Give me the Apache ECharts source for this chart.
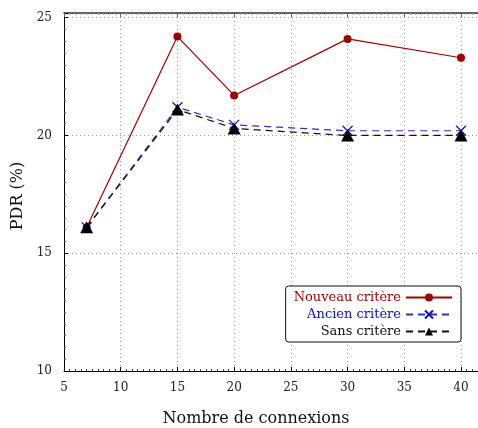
<!DOCTYPE html>
<html><head><meta charset="utf-8">
<script src="https://cdn.jsdelivr.net/npm/echarts@6/dist/echarts.min.js"></script>
<style>html,body{margin:0;padding:0;background:#fff}#c{width:478px;height:428px}</style>
</head><body><div id="c"></div>
<script>
const connexions = [7, 15, 20, 30, 40];
const nouveau = [16.1, 24.2, 21.7, 24.1, 23.3];
const ancien = [16.1, 21.2, 20.45, 20.2, 20.2];
const sans = [16.1, 21.1, 20.3, 20.0, 20.0];
const seriesNames = ['Nouveau critère', 'Ancien critère', 'Sans critère'];
const xTicks = [5, 10, 15, 20, 25, 30, 35, 40];
const yTicks = [10, 15, 20, 25];

const FONT = 'DejaVu Serif';
const pairs = (ys) => connexions.map((x, i) => [x, ys[i]]);
const chart = echarts.init(document.getElementById('c'));
const gridLine = {show: true, lineStyle: {color: '#9a9a9a', type: [1, 3], width: 1}};
chart.setOption({
  animation: false,
  grid: {left: 64, right: 0, top: 13, bottom: 57, outerBoundsMode: 'none', containLabel: false},
  xAxis: [{
    type: 'value', min: 5, max: 41.5, interval: 5,
    axisLine: {show: true, onZero: false, lineStyle: {color: '#000', width: 1}},
    axisTick: {show: true, inside: true, length: 4, lineStyle: {color: '#000'}},
    minorTick: {show: true, splitNumber: 10, length: 2, lineStyle: {color: '#444'}},
    axisLabel: {color: '#222', fontFamily: FONT, fontSize: 12, margin: 11, showMaxLabel: false,
      formatter: v => xTicks.includes(v) ? String(v) : ''},
    splitLine: gridLine,
    name: 'Nombre de connexions', nameLocation: 'middle', nameGap: 40,
    nameTextStyle: {fontFamily: FONT, fontSize: 16, color: '#111', padding: [0, 30, 0, 0]}
  }, {
    type: 'value', position: 'top', min: 5, max: 41.5, interval: 5,
    axisLine: {show: true, onZero: false, lineStyle: {color: '#333', width: 1.5}},
    axisTick: {show: true, inside: true, length: 4, lineStyle: {color: '#666'}},
    minorTick: {show: true, splitNumber: 10, length: 2, lineStyle: {color: '#999'}},
    axisLabel: {show: false}, splitLine: {show: false}
  }],
  yAxis: {
    type: 'value', min: 10, max: 25.2, interval: 5,
    axisLine: {show: true, onZero: false, lineStyle: {color: '#000', width: 1}},
    axisTick: {show: true, inside: true, length: 4, lineStyle: {color: '#000'}},
    minorTick: {show: true, splitNumber: 10, length: 2, lineStyle: {color: '#555'}},
    axisLabel: {color: '#222', fontFamily: FONT, fontSize: 12, margin: 12,
      formatter: v => yTicks.includes(v) ? String(v) : ''},
    splitLine: gridLine,
    name: 'PDR (%)', nameLocation: 'middle', nameGap: 38, nameRotate: 90,
    nameTextStyle: {fontFamily: FONT, fontSize: 16, color: '#111', padding: [0, 8, 0, 0]}
  },
  legend: {
    right: 17, top: 286, orient: 'vertical', align: 'right',
    itemWidth: 46, itemHeight: 10, itemGap: 4,
    padding: [5, 8, 4, 8],
    borderColor: '#111', borderWidth: 1, borderRadius: 3, backgroundColor: '#fff',
    textStyle: {fontFamily: FONT, fontSize: 13},
    data: [
      {name: seriesNames[0], textStyle: {color: '#a00000'}},
      {name: seriesNames[1], textStyle: {color: '#1010c0'}},
      {name: seriesNames[2], textStyle: {color: '#111'}}
    ]
  },
  series: [{
    name: seriesNames[0], type: 'line', data: pairs(nouveau), z: 3,
    symbol: 'circle', symbolSize: 8,
    lineStyle: {color: '#a00000', width: 1.2},
    itemStyle: {color: '#a00000'}
  }, {
    name: seriesNames[1], type: 'line', data: pairs(ancien), z: 4,
    symbol: 'path://M0,0L10,10M10,0L0,10', symbolSize: 10, symbolKeepAspect: true,
    lineStyle: {color: '#3030c8', width: 1.2, type: [7, 5]},
    itemStyle: {color: 'rgba(0,0,0,0)', borderColor: '#1010c0', borderWidth: 1.2}
  }, {
    name: seriesNames[2], type: 'line', data: pairs(sans), z: 5,
    symbol: 'triangle', symbolSize: [13, 12],
    lineStyle: {color: '#111', width: 1.2, type: [7, 5]},
    itemStyle: {color: '#000'}
  }]
});
</script></body></html>
